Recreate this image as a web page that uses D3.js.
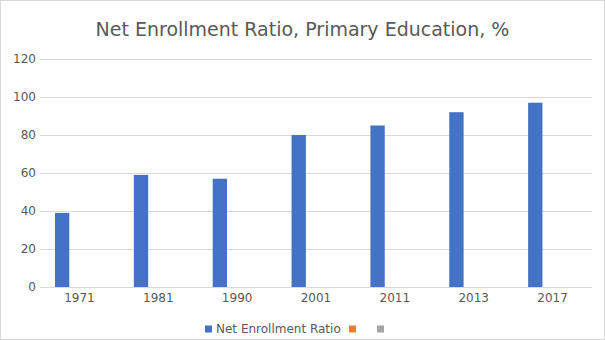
<!DOCTYPE html>
<html><head><meta charset="utf-8">
<script src="https://cdn.jsdelivr.net/npm/d3@7"></script>
<style>body{margin:0;background:#fff}svg{display:block}text{font-family:"DejaVu Sans",sans-serif}</style>
</head><body>
<svg id="c" width="605" height="340"></svg>
<script>
const categories = ["1971","1981","1990","2001","2011","2013","2017"];
const seriesNames = ["Net Enrollment Ratio","",""];
const enrollment = [39, 59, 57, 80, 85, 92, 97];
const series2 = [null,null,null,null,null,null,null];
const series3 = [null,null,null,null,null,null,null];
const yTicks = [0,20,40,60,80,100,120];
const colors = ["#4472C4","#ED7D31","#A5A5A5"];

const svg = d3.select("#c");
svg.append("rect").attr("x",0.5).attr("y",0.5).attr("width",604).attr("height",339)
  .attr("fill","#fff").attr("stroke","#d9d9d9");

const L=40,R=592,T=59,B=287;
const x0 = d3.scaleBand().domain(categories).range([L,R]).padding(0);
const bw = x0.bandwidth();
const x1 = d3.scaleBand().domain([0,1,2]).range([bw*0.19, bw*0.19+43]).padding(0);
const y = d3.scaleLinear().domain([0,120]).range([B,T]);

svg.append("g").selectAll("line").data(yTicks).join("line")
  .attr("x1",L).attr("x2",R).attr("y1",d=>y(d)+0.5).attr("y2",d=>y(d)+0.5)
  .attr("stroke","#d9d9d9").attr("stroke-width",1);

svg.append("g").selectAll("text").data(yTicks).join("text")
  .attr("x",36).attr("y",d=>y(d)).attr("dy","0.35em").attr("text-anchor","end")
  .attr("font-size",12).attr("fill","#595959").text(d=>d);

const allSeries=[enrollment,series2,series3];
allSeries.forEach((s,si)=>{
  svg.append("g").selectAll("rect").data(categories.map((c,i)=>({c,v:s[i]})).filter(d=>d.v!=null)).join("rect")
    .attr("x",d=>x0(d.c)+x1(si)).attr("width",x1.bandwidth())
    .attr("y",d=>y(d.v)).attr("height",d=>y(0)-y(d.v)).attr("fill",colors[si]);
});

svg.append("g").selectAll("text").data(categories).join("text")
  .attr("x",d=>x0(d)+bw/2).attr("y",302).attr("text-anchor","middle")
  .attr("font-size",12).attr("fill","#595959").text(d=>d);

svg.append("text").attr("x",302.5).attr("y",36).attr("text-anchor","middle")
  .attr("font-size",19).attr("fill","#595959").text("Net Enrollment Ratio, Primary Education, %");

const lg = svg.append("g");
const lx=[205,349,377];
seriesNames.forEach((n,i)=>{
  lg.append("rect").attr("x",lx[i]).attr("y",325.5).attr("width",7).attr("height",7).attr("fill",colors[i]);
  if(n) lg.append("text").attr("x",lx[i]+11).attr("y",333).attr("font-size",12).attr("fill","#595959").text(n);
});
</script>
</body></html>
